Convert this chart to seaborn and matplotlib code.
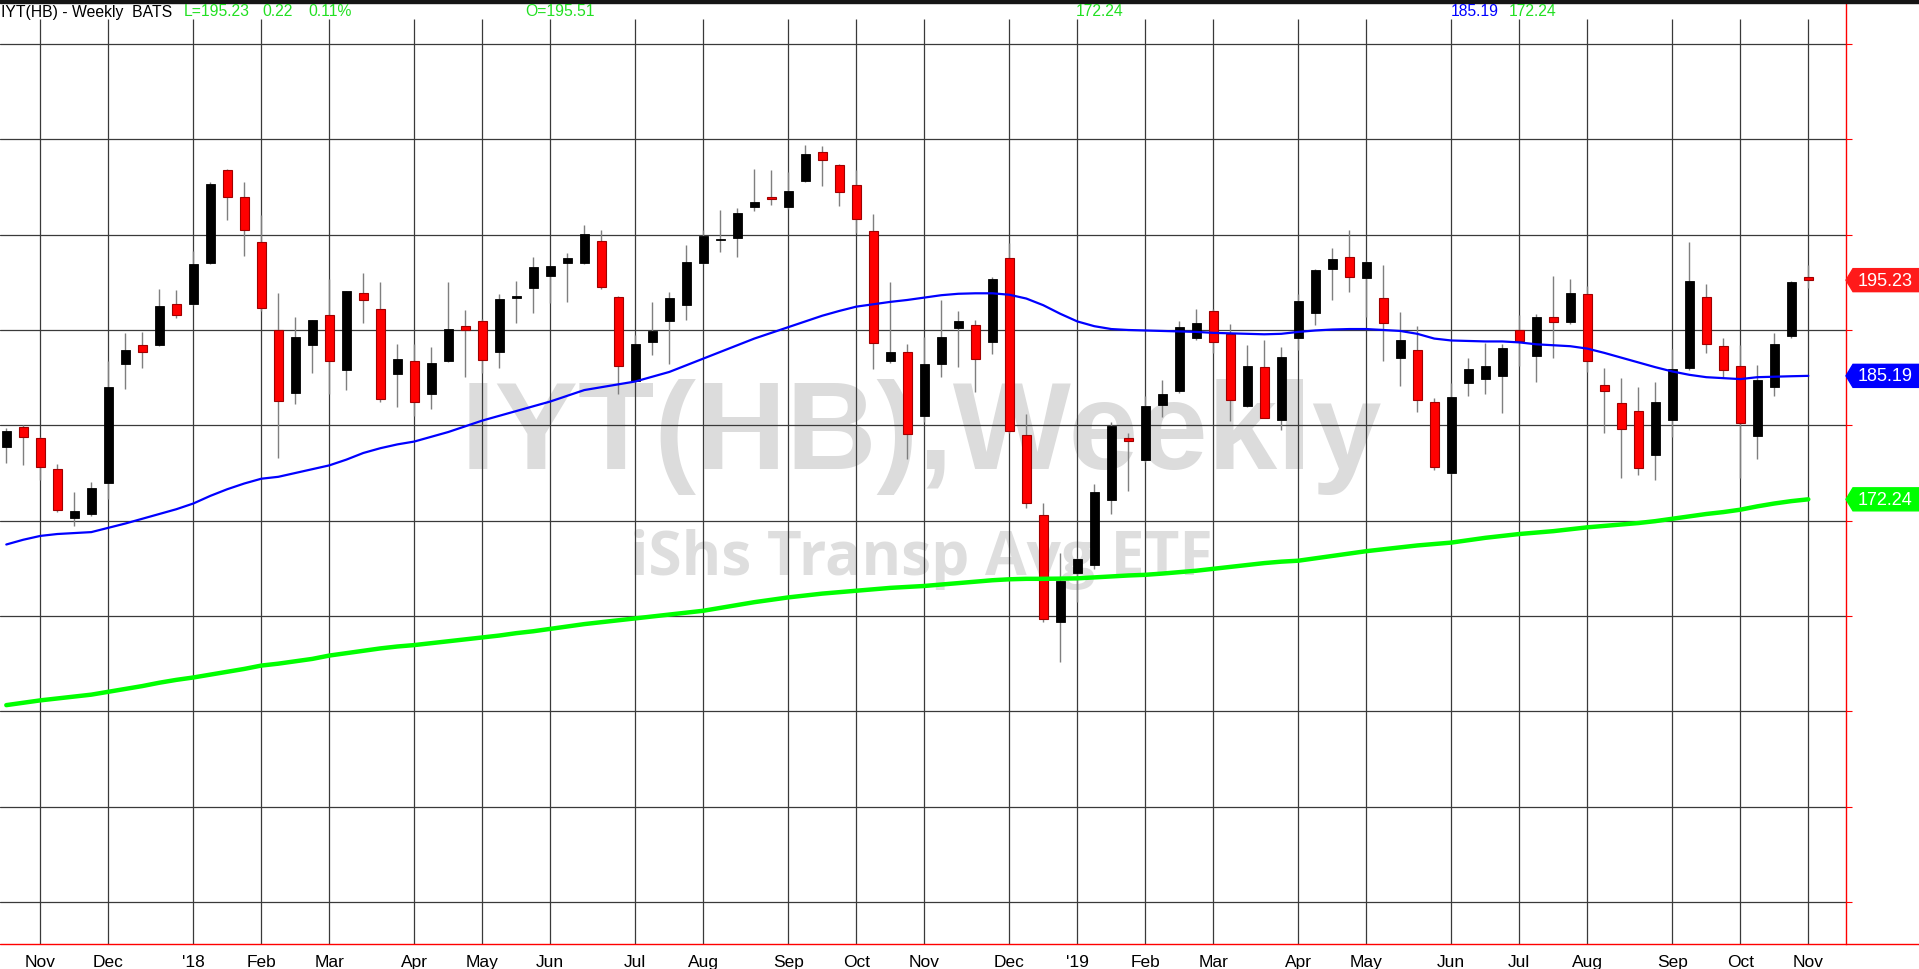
import numpy as np
import pandas as pd
import matplotlib
matplotlib.use('Agg')
import matplotlib.pyplot as plt
import matplotlib.transforms as mtrans
from matplotlib.patches import Polygon, Rectangle
from matplotlib.lines import Line2D
import seaborn as sns

# weekly bars, first bar = week ending Fri 2017-10-20
first_week = '2017-10-20'

opens = [177.7, 179.85, 178.7, 175.45, 170.25, 170.65, 173.95, 186.45, 188.45, 188.45,
         192.7, 192.75, 197.05, 206.75, 203.9, 199.2, 190.0, 183.35, 188.45, 191.6,
         185.8, 193.9, 192.25, 185.35, 186.8, 183.25, 186.7, 190.45, 190.9, 187.65,
         193.35, 194.45, 195.7, 197.05, 197.05, 199.3, 193.5, 184.7, 188.75, 190.95,
         192.65, 197.05, 199.45, 199.6, 202.85, 203.9, 202.85, 205.65, 208.65, 207.35,
         205.2, 200.35, 186.7, 187.7, 180.95, 186.45, 190.2, 190.55, 188.75, 197.6,
         178.95, 170.55, 159.35, 164.55, 165.3, 172.2, 178.7, 176.4, 182.1, 183.6,
         189.15, 191.95, 189.55, 182.0, 186.15, 180.6, 189.15, 191.8, 196.4, 197.7,
         195.45, 193.4, 187.05, 187.95, 182.45, 174.95, 184.4, 184.85, 185.15, 190.0,
         187.25, 191.4, 190.8, 193.8, 184.25, 182.35, 181.55, 176.9, 180.6, 186.0,
         193.5, 188.35, 186.25, 178.85, 184.0, 189.35, 195.51]
highs = [179.7, 180.05, 178.8, 175.95, 173.05, 174.05, 186.8, 189.65, 189.75, 194.3,
         194.2, 198.25, 205.55, 206.9, 205.55, 202.05, 193.85, 191.35, 191.1, 195.3,
         194.1, 196.0, 195.0, 188.55, 188.55, 188.2, 195.0, 192.15, 191.2, 193.75,
         195.15, 197.65, 196.75, 198.05, 201.05, 200.45, 193.6, 189.45, 192.95, 194.0,
         198.9, 200.5, 202.6, 202.8, 206.9, 206.8, 206.55, 209.4, 209.3, 207.45,
         206.8, 202.15, 195.0, 188.55, 189.3, 193.1, 191.95, 191.1, 195.55, 199.1,
         181.15, 171.85, 166.6, 166.05, 173.8, 180.4, 179.2, 183.05, 184.8, 190.9,
         192.25, 192.25, 190.6, 188.4, 188.9, 188.2, 193.75, 196.35, 198.65, 200.45,
         197.2, 196.8, 191.85, 190.45, 182.9, 184.4, 187.1, 188.6, 188.5, 191.6,
         191.65, 195.65, 195.3, 194.65, 186.05, 184.95, 184.0, 184.5, 188.05, 199.2,
         194.8, 189.15, 188.45, 186.3, 189.7, 195.15, 196.85]
lows = [176.1, 175.85, 174.25, 170.9, 169.45, 170.45, 172.3, 183.8, 186.05, 188.3,
        191.25, 192.6, 196.9, 201.5, 197.8, 192.0, 176.55, 182.25, 185.5, 183.25,
        183.7, 190.75, 182.45, 181.95, 181.0, 181.7, 186.6, 185.1, 185.5, 186.0,
        190.75, 191.8, 192.85, 192.95, 196.9, 194.25, 183.3, 184.5, 187.35, 186.45,
        191.05, 196.9, 198.2, 197.7, 202.5, 203.15, 202.7, 205.5, 205.15, 203.0,
        200.15, 185.9, 186.5, 176.45, 180.3, 185.05, 186.1, 183.45, 187.5, 179.2,
        171.3, 159.4, 155.2, 161.5, 164.95, 170.65, 173.15, 176.2, 180.85, 183.4,
        188.95, 187.6, 180.45, 181.9, 180.75, 179.5, 187.9, 190.5, 193.15, 194.0,
        191.35, 186.75, 184.15, 181.4, 175.3, 174.9, 183.05, 183.25, 181.3, 186.25,
        184.55, 187.1, 190.65, 185.6, 179.2, 174.5, 174.8, 174.25, 178.75, 185.8,
        187.6, 185.1, 174.45, 176.45, 183.05, 189.2, 194.45]
closes = [179.45, 178.8, 175.65, 171.1, 171.0, 173.45, 184.0, 187.85, 187.65, 192.55,
          191.6, 196.9, 205.35, 204.0, 200.45, 192.3, 182.55, 189.3, 191.0, 186.7,
          194.05, 193.15, 182.75, 187.0, 182.45, 186.5, 190.15, 190.05, 186.85, 193.25,
          193.6, 196.6, 196.7, 197.55, 200.05, 194.5, 186.2, 188.5, 189.85, 193.35,
          197.1, 199.85, 199.55, 202.25, 203.4, 203.7, 204.55, 208.45, 207.8, 204.5,
          201.6, 188.65, 187.7, 179.05, 186.45, 189.3, 190.9, 187.0, 195.3, 179.4,
          171.85, 159.65, 163.7, 166.0, 173.05, 179.95, 178.35, 182.05, 183.25, 190.35,
          190.7, 188.75, 182.65, 186.25, 180.8, 187.2, 193.0, 196.3, 197.5, 195.6,
          197.15, 190.75, 189.0, 182.65, 175.65, 183.0, 185.95, 186.25, 188.15, 188.8,
          191.4, 190.8, 193.85, 186.8, 183.6, 179.65, 175.55, 182.45, 185.9, 195.15,
          188.55, 185.85, 180.2, 184.8, 188.55, 195.01, 195.23]

# moving averages, one value per weekly bar
ma_blue = [167.5, 168.0, 168.4, 168.6, 168.7, 168.8, 169.25, 169.7, 170.2, 170.7,
           171.2, 171.8, 172.6, 173.3, 173.9, 174.4, 174.6, 175.0, 175.4, 175.8,
           176.4, 177.1, 177.6, 178.0, 178.3, 178.8, 179.3, 179.9, 180.5, 181.0,
           181.5, 182.0, 182.5, 183.1, 183.7, 184.0, 184.3, 184.6, 185.1, 185.6,
           186.3, 187.0, 187.7, 188.4, 189.1, 189.7, 190.3, 190.9, 191.5, 192.0,
           192.45, 192.7, 192.95, 193.15, 193.4, 193.65, 193.8, 193.85, 193.85, 193.7,
           193.3, 192.6, 191.7, 190.9, 190.4, 190.1, 190.0, 189.95, 189.9, 189.85,
           189.8, 189.7, 189.65, 189.6, 189.55, 189.6, 189.8, 189.95, 190.05, 190.1,
           190.1, 190.0, 189.9, 189.6, 189.1, 188.9, 188.85, 188.8, 188.8, 188.7,
           188.5, 188.4, 188.3, 188.05, 187.6, 187.1, 186.6, 186.1, 185.65, 185.3,
           185.05, 184.95, 184.85, 185.05, 185.1, 185.15, 185.19]
ma_green = [150.65, 150.9, 151.15, 151.35, 151.55, 151.75, 152.05, 152.35, 152.65, 153.0,
            153.3, 153.55, 153.85, 154.15, 154.45, 154.8, 155.0, 155.25, 155.5, 155.85,
            156.1, 156.35, 156.6, 156.8, 156.95, 157.15, 157.35, 157.55, 157.75, 157.95,
            158.2, 158.4, 158.65, 158.9, 159.15, 159.35, 159.55, 159.75, 159.95, 160.15,
            160.35, 160.55, 160.85, 161.15, 161.45, 161.7, 161.95, 162.15, 162.35, 162.5,
            162.65, 162.8, 162.95, 163.05, 163.15, 163.3, 163.45, 163.6, 163.75, 163.85,
            163.9, 163.9, 163.92, 163.95, 164.05, 164.15, 164.25, 164.32, 164.45, 164.6,
            164.75, 164.95, 165.15, 165.35, 165.55, 165.7, 165.8, 166.05, 166.3, 166.55,
            166.8, 167.0, 167.2, 167.4, 167.55, 167.7, 167.95, 168.2, 168.4, 168.6,
            168.75, 168.9, 169.1, 169.3, 169.45, 169.6, 169.75, 169.95, 170.2, 170.45,
            170.7, 170.9, 171.15, 171.5, 171.8, 172.05, 172.24]

price_grid = [130, 140, 150, 160, 170, 180, 190, 200, 210, 220]

# -----------------------

sns.set_style('white')
plt.rcParams['font.family'] = ['Liberation Sans', 'DejaVu Sans']

W, H = 1919, 970
fig = plt.figure(figsize=(W / 100, H / 100), dpi=100)
fig.patch.set_facecolor('white')

# axes: x 0..1845.6 px, y 4..945 px
ax = fig.add_axes([0, (H - 945) / H, 1845.6 / W, (945 - 4) / H])
ax.set_facecolor('white')

n = len(closes)
wk = np.arange(n)
dates = pd.date_range(first_week, periods=n, freq='W-FRI')

px_per_usd = 9.533
ymax = 220 + (45 - 4) / px_per_usd
ymin = 130 - (945 - 903) / px_per_usd
ax.set_ylim(ymin, ymax)
ax.set_xlim(-6.3 / 17, (1845.6 - 6.3) / 17)

# month ticks at the first bar of each month
tick_pos, tick_lab = [], []
for i in range(1, n):
    if dates[i].month != dates[i - 1].month:
        tick_pos.append(i)
        tick_lab.append("'" + dates[i].strftime('%y') if dates[i].month == 1 else dates[i].strftime('%b'))

# watermark
bt_ax = mtrans.blended_transform_factory(ax.transAxes, ax.transData)
ax.text(921 / 1845.6, 220 - (437 - 45) / px_per_usd, 'IYT(HB),Weekly', transform=bt_ax,
        ha='center', va='center', fontsize=90, fontweight='bold', color='#dcdcdc',
        family=['Liberation Sans'], zorder=0)
ax.text(921 / 1845.6, 220 - (559 - 45) / px_per_usd, 'iShs Transp Avg ETF', transform=bt_ax,
        ha='center', va='center', fontsize=43.5, fontweight='bold', color='#dedede',
        family=['Open Sans'], zorder=0)

# grid
grid_top = 220 + (45 - 20) / px_per_usd
for p in price_grid:
    ax.axhline(p, color='#3a3a3a', lw=0.9, zorder=1)
ax.vlines(tick_pos, ymin, grid_top, color='#3a3a3a', lw=0.9, zorder=1)

# candles
o, c = np.array(opens), np.array(closes)
up = c >= o
ax.vlines(wk, lows, highs, color='#7f7f7f', lw=1.0, zorder=3)
body_lo = np.minimum(o, c)
body_h = np.maximum(np.abs(c - o), 0.12)
ax.bar(wk[up], body_h[up], bottom=body_lo[up], width=0.5,
       color='black', edgecolor='black', lw=0.6, zorder=4)
ax.bar(wk[~up], body_h[~up], bottom=body_lo[~up], width=0.5,
       color='#ff0000', edgecolor='#a00000', lw=0.8, zorder=4)

# moving averages
ma = pd.DataFrame({'wk': wk, 'blue': ma_blue, 'green': ma_green})
sns.lineplot(data=ma, x='wk', y='blue', color='#0000ff', lw=1.6, ax=ax, zorder=5)
sns.lineplot(data=ma, x='wk', y='green', color='#00ff00', lw=3.2, ax=ax, zorder=5)

# axes look
for s in ['left', 'top', 'bottom']:
    ax.spines[s].set_visible(False)
ax.spines['right'].set_color('red')
ax.spines['right'].set_linewidth(1.0)
ax.set_xlabel('')
ax.set_ylabel('')
ax.set_xticks(tick_pos)
ax.set_xticklabels(tick_lab, fontsize=12.5)
ax.tick_params(axis='x', colors='red', length=4.5, width=0.8, pad=3, direction='out')
for t in ax.get_xticklabels():
    t.set_color('black')
ax.yaxis.tick_right()
ax.set_yticks(price_grid)
ax.set_yticklabels([])
ax.tick_params(axis='y', colors='red', length=4.5, width=0.8, right=True, left=False)

# bottom red line runs across the whole width
fig.add_artist(Line2D([0, 1], [(H - 945) / H] * 2, color='red', lw=1.0,
                      transform=fig.transFigure))
# dark strip at the very top
fig.add_artist(Rectangle((0, 1 - 4 / H), 1, 4 / H, color='#151515',
                         transform=fig.transFigure))

# header
hy = 1 - 12 / H
fig.text(1 / W, hy, 'IYT(HB) - Weekly  BATS', fontsize=11.3, color='black', va='center')
green_txt = '#22e022'
for x, s, col in [(184, 'L=195.23', green_txt), (262, '0.22', green_txt),
                  (308, '0.11%', green_txt), (525, 'O=195.51', green_txt),
                  (1076, '172.24', green_txt), (1451, '185.19', '#0000ff'),
                  (1509, '172.24', green_txt)]:
    fig.text(x / W, hy, s, fontsize=11.3, color=col, va='center')

# price flags on the right
bt = mtrans.blended_transform_factory(fig.transFigure, ax.transData)
half = 11.5 / px_per_usd
for val, col in [(closes[-1], '#ff1a1a'), (ma_blue[-1], '#0000ff'), (ma_green[-1], '#00ff00')]:
    xs = np.array([1846, 1853, W, W, 1853]) / W
    ys = [val, val + half, val + half, val - half, val - half]
    fig.add_artist(Polygon(np.c_[xs, ys], closed=True, color=col, transform=bt, clip_on=False))
    fig.text(1885 / W, val, '%.2f' % val, transform=bt, ha='center', va='center',
             fontsize=13, color='white', family=['Liberation Sans'])

fig.savefig('out.png', dpi=100, facecolor='white')
